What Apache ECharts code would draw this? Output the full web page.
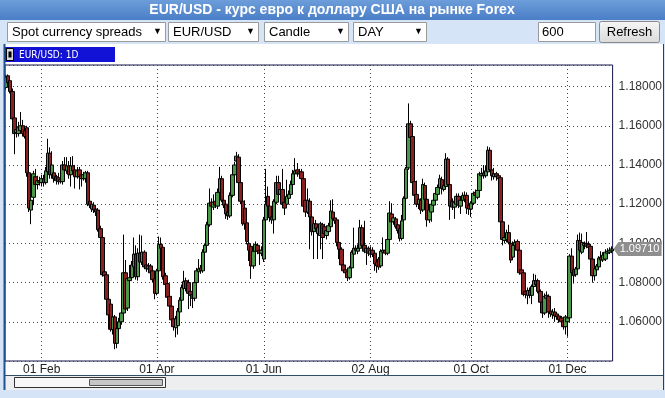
<!DOCTYPE html>
<html>
<head>
<meta charset="utf-8">
<script src="https://cdn.jsdelivr.net/npm/echarts@6/dist/echarts.min.js"></script>
<style>
html,body{margin:0;padding:0;background:#d5e4f6;}
#chart{width:665px;height:398px;}
</style>
</head>
<body>
<div id="chart"></div>
<script>
// daily candles, each [open, close, low, high]
var janCandles = [
[1.1795,1.1845,1.1785,1.1860],[1.1855,1.1820,1.1810,1.1862],[1.1830,1.1775,1.1765,1.1840],[1.1775,1.1635,1.1620,1.1790],
[1.1640,1.1560,1.1455,1.1650],[1.1565,1.1580,1.1540,1.1600],[1.1560,1.1590,1.1545,1.1620],[1.1575,1.1600,1.1560,1.1670],
[1.1600,1.1560,1.1545,1.1630],[1.1575,1.1545,1.1535,1.1600],[1.1590,1.1360,1.1340,1.1600],[1.1360,1.1180,1.1160,1.1370],
[1.1170,1.1220,1.1098,1.1235],[1.1235,1.1355,1.1195,1.1370],[1.1340,1.1300,1.1280,1.1380],[1.1300,1.1320,1.1275,1.1345],
[1.1320,1.1310,1.1295,1.1340],[1.1310,1.1330,1.1290,1.1350]
];
var febMarCandles = [
[1.1330,1.1310,1.1290,1.1350],[1.1310,1.1370,1.1300,1.1390],[1.1365,1.1460,1.1355,1.1534],[1.1460,1.1350,1.1330,1.1490],
[1.1350,1.1400,1.1330,1.1470],[1.1360,1.1330,1.1310,1.1380],[1.1340,1.1320,1.1300,1.1350],[1.1335,1.1315,1.1300,1.1360],
[1.1315,1.1325,1.1305,1.1340],[1.1315,1.1400,1.1300,1.1420],[1.1400,1.1375,1.1360,1.1440],[1.1370,1.1395,1.1355,1.1440],
[1.1395,1.1350,1.1330,1.1420],[1.1350,1.1395,1.1290,1.1440],[1.1395,1.1370,1.1355,1.1445],[1.1375,1.1340,1.1280,1.1400],
[1.1340,1.1370,1.1330,1.1390],[1.1375,1.1340,1.1275,1.1390],[1.1350,1.1330,1.1290,1.1365],[1.1330,1.1350,1.1320,1.1365],
[1.1330,1.1360,1.1310,1.1370],[1.1360,1.1200,1.1190,1.1370],[1.1215,1.1195,1.1180,1.1230],[1.1175,1.1200,1.1160,1.1215],
[1.1195,1.1170,1.1155,1.1210],[1.1175,1.1160,1.1140,1.1190],[1.1170,1.1070,1.1060,1.1180],[1.1075,1.1030,1.1020,1.1090],
[1.1030,1.0840,1.0830,1.1040],[1.0855,1.0835,1.0820,1.0870],[1.0840,1.0715,1.0705,1.0850],[1.0715,1.0635,1.0560,1.0725],
[1.0690,1.0560,1.0550,1.0700],[1.0560,1.0625,1.0535,1.0640],[1.0625,1.0490,1.0460,1.0635],[1.0490,1.0565,1.0465,1.0580],
[1.0565,1.0600,1.0545,1.0620],[1.0600,1.0645,1.0585,1.0660],[1.0645,1.0850,1.0630,1.1045],[1.0850,1.0665,1.0650,1.0915],
[1.0670,1.0820,1.0655,1.0835],[1.0810,1.0825,1.0800,1.0890],[1.0825,1.0890,1.0815,1.0910],[1.0880,1.0945,1.0870,1.1030],
[1.0945,1.0830,1.0815,1.0990],[1.0830,1.0950,1.0810,1.0975],[1.0950,1.0905,1.0895,1.1045],[1.0905,1.0955,1.0890,1.1040],
[1.0955,1.0880,1.0870,1.0965],[1.0890,1.0870,1.0855,1.0905],[1.0870,1.0885,1.0850,1.0900],[1.0885,1.0850,1.0840,1.0895],
[1.0860,1.0815,1.0800,1.0870],[1.0820,1.0745,1.0715,1.0830],[1.0745,1.0860,1.0735,1.0870]
];
var aprMayCandles = [
[1.0860,1.0995,1.0850,1.1035],[1.0995,1.0975,1.0960,1.1030],[1.0980,1.0830,1.0815,1.0990],[1.0835,1.0790,1.0775,1.0850],
[1.0795,1.0725,1.0715,1.0810],[1.0730,1.0680,1.0665,1.0740],[1.0680,1.0610,1.0600,1.0690],[1.0615,1.0575,1.0555,1.0625],
[1.0570,1.0615,1.0521,1.0630],[1.0580,1.0655,1.0535,1.0670],[1.0650,1.0710,1.0640,1.0725],[1.0710,1.0775,1.0700,1.0790],
[1.0770,1.0805,1.0760,1.0860],[1.0810,1.0770,1.0755,1.0825],[1.0800,1.0745,1.0665,1.0815],[1.0755,1.0735,1.0680,1.0770],
[1.0740,1.0720,1.0670,1.0750],[1.0720,1.0800,1.0705,1.0815],[1.0800,1.0860,1.0790,1.0875],[1.0855,1.0870,1.0840,1.0920],
[1.0875,1.0860,1.0845,1.0890],[1.0860,1.0955,1.0850,1.0970],[1.0955,1.0990,1.0945,1.1000],[1.0990,1.1095,1.0980,1.1110],
[1.1095,1.1205,1.1085,1.1280],[1.1210,1.1190,1.1150,1.1230],[1.1185,1.1210,1.1170,1.1250],[1.1215,1.1195,1.1180,1.1235],
[1.1190,1.1260,1.1175,1.1280],[1.1260,1.1330,1.1250,1.1390],[1.1330,1.1220,1.1210,1.1345],[1.1220,1.1195,1.1180,1.1240],
[1.1200,1.1150,1.1125,1.1215],[1.1160,1.1140,1.1120,1.1175],[1.1140,1.1245,1.1130,1.1260],[1.1245,1.1350,1.1235,1.1360],
[1.1350,1.1400,1.1340,1.1415],[1.1420,1.1445,1.1405,1.1467],[1.1440,1.1310,1.1300,1.1455],[1.1310,1.1215,1.1200,1.1320],
[1.1215,1.1100,1.1090,1.1230],[1.1180,1.1100,1.1070,1.1220],[1.1105,1.1010,1.0995,1.1115],[1.1000,1.0965,1.0910,1.1010],
[1.0985,1.0885,1.0819,1.0995],[1.0885,1.0960,1.0870,1.0975],[1.0960,1.0995,1.0890,1.1010],[1.0990,1.0960,1.0945,1.1000],
[1.0965,1.0950,1.0890,1.0980],[1.0950,1.0965,1.0935,1.0985],[1.0920,1.1120,1.0905,1.1135]
];
var junJulCandles = [
[1.1120,1.1200,1.1110,1.1380],[1.1240,1.1190,1.1175,1.1290],[1.1190,1.1130,1.1110,1.1210],[1.1135,1.1120,1.1100,1.1150],
[1.1120,1.1215,1.1050,1.1225],[1.1210,1.1310,1.1200,1.1345],[1.1310,1.1250,1.1240,1.1345],[1.1250,1.1275,1.1235,1.1290],
[1.1275,1.1200,1.1190,1.1380],[1.1210,1.1180,1.1145,1.1225],[1.1200,1.1240,1.1185,1.1325],[1.1230,1.1250,1.1215,1.1270],
[1.1250,1.1300,1.1235,1.1320],[1.1300,1.1355,1.1290,1.1375],[1.1355,1.1370,1.1345,1.1435],[1.1375,1.1355,1.1340,1.1410],
[1.1355,1.1365,1.1340,1.1380],[1.1365,1.1330,1.1315,1.1380],[1.1330,1.1190,1.1180,1.1340],[1.1220,1.1160,1.1135,1.1235],
[1.1160,1.1220,1.1150,1.1280],[1.1215,1.1135,1.0970,1.1230],[1.1135,1.1060,1.1040,1.1145],[1.1060,1.1100,1.0920,1.1115],
[1.1100,1.1075,1.1060,1.1120],[1.1050,1.1080,1.0920,1.1100],[1.1040,1.1100,1.0970,1.1110],[1.1095,1.1030,1.0920,1.1105],
[1.1085,1.1050,1.1030,1.1100],[1.1040,1.1065,1.1020,1.1080],[1.1060,1.1090,1.1045,1.1105],[1.1085,1.1165,1.1075,1.1220],
[1.1160,1.1125,1.1110,1.1225],[1.1130,1.1115,1.1100,1.1145],[1.1120,1.1005,1.0985,1.1130],[1.1005,1.0970,1.0920,1.1015],
[1.0970,1.0890,1.0880,1.0980],[1.0890,1.0860,1.0850,1.0900],[1.0865,1.0850,1.0835,1.0875],[1.0855,1.0825,1.0808,1.0865],
[1.0825,1.0875,1.0815,1.0885],[1.0875,1.0955,1.0865,1.0965],[1.0945,1.0975,1.0935,1.1080],[1.0975,1.0965,1.0950,1.0990],
[1.0960,1.0975,1.0945,1.0995],[1.0975,1.1080,1.0965,1.1120],[1.1080,1.0990,1.0975,1.1095],[1.0990,1.0960,1.0950,1.1115],
[1.0955,1.0975,1.0890,1.0990],[1.0975,1.0950,1.0935,1.0985],[1.0945,1.0965,1.0930,1.0985]
];
var augSepCandles = [
[1.0965,1.0945,1.0930,1.0980],[1.0950,1.0895,1.0860,1.0960],[1.0905,1.0885,1.0850,1.0915],[1.0920,1.0880,1.0865,1.0930],
[1.0885,1.0960,1.0875,1.0970],[1.0955,1.0965,1.0945,1.1030],[1.0965,1.0950,1.0940,1.0975],[1.0950,1.1020,1.0940,1.1030],
[1.1020,1.1155,1.1010,1.1215],[1.1150,1.1110,1.1100,1.1205],[1.1110,1.1130,1.1095,1.1150],[1.1125,1.1085,1.1075,1.1135],
[1.1095,1.1065,1.1050,1.1105],[1.1075,1.1025,1.1010,1.1085],[1.1025,1.1115,1.1015,1.1145],[1.1120,1.1230,1.1110,1.1240],
[1.1230,1.1380,1.1220,1.1390],[1.1385,1.1610,1.1375,1.1714],[1.1610,1.1540,1.1525,1.1625],[1.1545,1.1310,1.1300,1.1555],
[1.1315,1.1245,1.1225,1.1325],[1.1250,1.1200,1.1185,1.1320],[1.1200,1.1225,1.1175,1.1240],[1.1220,1.1170,1.1150,1.1230],
[1.1170,1.1300,1.1160,1.1330],[1.1295,1.1225,1.1215,1.1310],[1.1225,1.1120,1.1085,1.1235],[1.1120,1.1170,1.1105,1.1180],
[1.1160,1.1200,1.1110,1.1215],[1.1195,1.1220,1.1185,1.1240],[1.1220,1.1255,1.1210,1.1270],[1.1250,1.1285,1.1240,1.1300],
[1.1285,1.1330,1.1275,1.1350],[1.1325,1.1280,1.1250,1.1340],[1.1275,1.1295,1.1265,1.1310],[1.1290,1.1430,1.1280,1.1460],
[1.1430,1.1300,1.1290,1.1440],[1.1300,1.1190,1.1120,1.1310],[1.1215,1.1185,1.1170,1.1230],[1.1185,1.1210,1.1125,1.1230],
[1.1200,1.1240,1.1185,1.1255],[1.1240,1.1195,1.1180,1.1255],[1.1190,1.1220,1.1150,1.1240],[1.1220,1.1245,1.1205,1.1260],
[1.1245,1.1225,1.1210,1.1265],[1.1245,1.1180,1.1150,1.1260],[1.1195,1.1175,1.1145,1.1210],[1.1175,1.1205,1.1135,1.1215]
];
var octDecCandles = [
[1.1205,1.1255,1.1195,1.1265],[1.1260,1.1245,1.1230,1.1275],[1.1235,1.1270,1.1225,1.1285],[1.1270,1.1355,1.1260,1.1365],
[1.1345,1.1355,1.1335,1.1385],[1.1360,1.1345,1.1330,1.1400],[1.1345,1.1370,1.1335,1.1395],[1.1365,1.1475,1.1355,1.1495],
[1.1475,1.1375,1.1365,1.1490],[1.1375,1.1345,1.1320,1.1385],[1.1340,1.1355,1.1325,1.1385],[1.1355,1.1340,1.1320,1.1365],
[1.1345,1.1330,1.1320,1.1355],[1.1335,1.1110,1.1100,1.1345],[1.1110,1.1020,1.0990,1.1120],[1.1015,1.1030,1.1000,1.1090],
[1.1020,1.1055,1.1005,1.1070],[1.1055,1.1005,1.0995,1.1095],[1.1000,1.0915,1.0900,1.1015],[1.0930,1.0990,1.0920,1.1010],
[1.0990,1.1005,1.0975,1.1020],[1.1010,1.0965,1.0950,1.1020],[1.0965,1.0850,1.0840,1.0975],[1.0865,1.0845,1.0815,1.0875],
[1.0850,1.0740,1.0730,1.0860],[1.0755,1.0740,1.0720,1.0770],[1.0735,1.0760,1.0690,1.0775],[1.0760,1.0735,1.0720,1.0775],
[1.0735,1.0780,1.0690,1.0790],[1.0780,1.0810,1.0770,1.0845],[1.0810,1.0790,1.0780,1.0840],[1.0810,1.0755,1.0745,1.0820],
[1.0755,1.0700,1.0680,1.0765],[1.0700,1.0645,1.0620,1.0710],[1.0645,1.0730,1.0635,1.0745],[1.0720,1.0735,1.0705,1.0755],
[1.0730,1.0650,1.0620,1.0740],[1.0655,1.0640,1.0625,1.0670],[1.0635,1.0650,1.0615,1.0665],[1.0650,1.0630,1.0600,1.0670],
[1.0640,1.0625,1.0610,1.0650],[1.0630,1.0610,1.0595,1.0640],[1.0620,1.0600,1.0585,1.0630],[1.0605,1.0575,1.0560,1.0615],
[1.0575,1.0625,1.0535,1.0635],[1.0600,1.0620,1.0524,1.0635],[1.0620,1.0935,1.0605,1.0945],[1.0935,1.0850,1.0840,1.0975],
[1.0865,1.0835,1.0795,1.0875],[1.0840,1.0870,1.0830,1.0880],[1.0870,1.1015,1.0860,1.1045],[1.1015,1.0965,1.0955,1.1055],
[1.0955,1.1005,1.0945,1.1050],[1.0990,1.1000,1.0970,1.1010],[1.1000,1.0985,1.0975,1.1058],[1.0995,1.0980,1.0965,1.1010],
[1.0985,1.0920,1.0910,1.0995],[1.0920,1.0835,1.0800,1.0930],[1.0835,1.0870,1.0810,1.0885],[1.0865,1.0885,1.0850,1.0895],
[1.0880,1.0925,1.0870,1.0935],[1.0930,1.0915,1.0905,1.0960],[1.0915,1.0940,1.0905,1.0955],[1.0920,1.0955,1.0910,1.0970],
[1.0950,1.0960,1.0940,1.0975],[1.0955,1.0965,1.0945,1.0980],[1.0962,1.0971,1.0950,1.0985]
];
// x labels by candle index
var tickLabels = {17:'01 Feb', 72:'01 Apr', 123:'01 Jun', 174:'02 Aug', 222:'01 Oct', 268:'01 Dec'};
var lastPrice = 1.0971;

var candles = janCandles.concat(febMarCandles, aprMayCandles, junJulCandles, augSepCandles, octDecCandles);
var categories = candles.map(function(c, i){ return tickLabels[i] || ''; });
function hasTick(i){ return !!tickLabels[i]; }

function box(x, y, w, h, fill, stroke, z){
    return {type:'rect', silent:true, z:z||0, shape:{x:x, y:y, width:w, height:h},
        style:{fill:fill, stroke:stroke||null, lineWidth:1}};
}
function label(text, x, y, font, fill, align){
    return {type:'text', silent:true, z:5, style:{text:text, x:x, y:y, font:font, fill:fill,
        align:align||'left', verticalAlign:'middle', textAlign:align||'left', textVerticalAlign:'middle'}};
}
function select(x, w, text){
    return [box(x+0.5, 22.5, w, 19, '#fff', '#9a9a9a', 1),
        label(text, x+5, 32, '13px Arial', '#000'),
        label('\u25BC', x+w-12, 32, '9px Arial', '#000')];
}

var graphics = [].concat(
    [box(0, 0, 665, 20, {type:'linear', x:0, y:0, x2:0, y2:1,
        colorStops:[{offset:0, color:'#6d9dda'}, {offset:1, color:'#4a7ec6'}]}, null, -1),
     label('EUR/USD - курс евро к доллару США на рынке Forex', 332, 10, 'bold 14px Arial', '#fff', 'center')],
    select(7, 158, 'Spot currency spreads'),
    select(168, 90, 'EUR/USD'),
    select(264, 84, 'Candle'),
    select(353, 73, 'DAY'),
    [box(538.5, 22.5, 57, 19, '#fff', '#9a9a9a', 1),
     label('600', 542, 32, '13px Arial', '#000'),
     {type:'rect', silent:true, z:1, shape:{x:599.5, y:21.5, width:60, height:21, r:2},
        style:{fill:{type:'linear', x:0, y:0, x2:0, y2:1, colorStops:[{offset:0, color:'#f6f6f6'}, {offset:1, color:'#dadada'}]},
        stroke:'#8a8a8a', lineWidth:1}},
     label('Refresh', 629.5, 32, '13px Arial', '#000', 'center'),
     box(4, 44, 659, 332, '#fff', null, -1),
     {type:'line', silent:true, z:3, shape:{x1:4.5, y1:44, x2:4.5, y2:390}, style:{stroke:'#23508f', lineWidth:2}},
     {type:'line', silent:true, z:3, shape:{x1:663.5, y1:44, x2:663.5, y2:390}, style:{stroke:'#2b3f55', lineWidth:1}},
     box(5, 47, 110, 15, '#1212d6', null, 2),
     box(6.5, 48.5, 7, 12, '#d8d8d8', '#000', 3),
     box(8.5, 51.5, 3, 6, '#000', null, 4),
     label('EUR/USD: 1D', 19, 55, '10px "DejaVu Sans Condensed", Arial', '#fff'),
     {type:'line', silent:true, z:3, shape:{x1:5, y1:375.5, x2:663, y2:375.5}, style:{stroke:'#30506a', lineWidth:1}},
     box(5, 376, 658, 14, '#eceef0', null, 1),
     box(14.5, 377.5, 151, 10, '#f7f7f7', '#333', 2),
     box(89.5, 379.5, 73, 6, '#c6c6c6', '#555', 3)]
);

var chart = echarts.init(document.getElementById('chart'));
chart.setOption({
    animation: false,
    backgroundColor: '#d5e4f6',
    graphic: graphics,
    grid: {left:5, right:49, top:65, bottom:37, show:true, backgroundColor:'#fff', borderColor:'#14144a', borderWidth:1},
    xAxis: {
        type: 'category',
        data: categories,
        boundaryGap: true,
        axisLine: {show:false},
        axisTick: {show:false},
        axisLabel: {interval:function(i){ return hasTick(i); }, color:'#222', fontSize:12, fontFamily:'Arial', margin:3},
        splitLine: {show:true, interval:function(i){ return hasTick(i); }, alignWithLabel:true,
            lineStyle:{color:'#444', width:1, type:[1,3]}}
    },
    yAxis: {
        type: 'value',
        position: 'right',
        min: 1.04,
        max: 1.191,
        interval: 0.02,
        axisLine: {show:false},
        axisTick: {show:false},
        axisLabel: {showMinLabel:false, showMaxLabel:false, color:'#333', fontSize:12, fontFamily:'Arial', margin:6,
            formatter:function(v){ return v.toFixed(5); }},
        splitLine: {lineStyle:{color:'#444', width:1, type:[1,3]}}
    },
    series: [{
        type: 'candlestick',
        data: candles,
        barWidth: 4,
        itemStyle: {color:'#4b984b', color0:'#8a2121', borderColor:'#000', borderColor0:'#000', borderWidth:1},
        markPoint: {
            silent: true,
            symbol: 'path://M0,7L6,0L60,0L60,14L6,14Z',
            symbolSize: [48, 14],
            symbolKeepAspect: false,
            symbolOffset: [26, 0],
            itemStyle: {color:'#8e8e8e'},
            label: {show:true, position:'inside', color:'#fff', fontSize:11, fontFamily:'Arial', offset:[2, 0],
                formatter:function(p){ return p.value.toFixed(5); }},
            data: [{coord:[candles.length - 1, lastPrice], value:lastPrice}]
        }
    }]
});
</script>
</body>
</html>
